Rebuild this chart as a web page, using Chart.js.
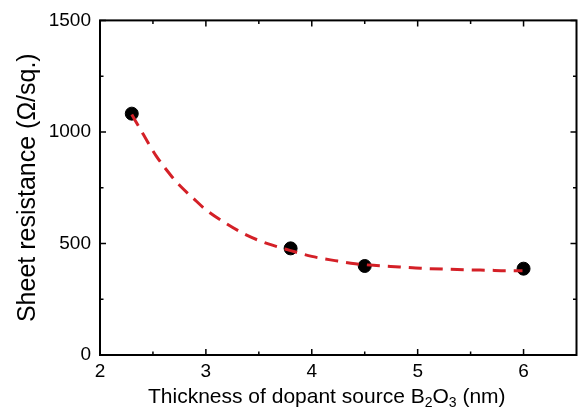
<!DOCTYPE html>
<html>
<head>
<meta charset="utf-8">
<script src="https://cdn.jsdelivr.net/npm/chart.js@4/dist/chart.umd.min.js"></script>
<style>
  html, body { margin: 0; padding: 0; background: #fff; }
  #wrap { width: 584px; height: 414px; }
</style>
</head>
<body>
<div id="wrap"><canvas id="c" width="584" height="414"></canvas></div>
<script>
// ---- data ----
const thickness = [2.3, 3.8, 4.5, 6.0];
const resistance = [1082, 478, 399, 387];

const fitX = [2.30, 2.41, 2.53, 2.67, 2.77, 2.88, 2.99, 3.19, 3.39, 3.59, 3.80, 4.00, 4.22, 4.41, 4.61, 4.83, 5.03, 5.24, 5.46, 5.66, 5.86, 5.99];
const fitY = [1078, 988, 893, 805, 752, 703, 655, 590, 536, 498, 468, 442, 423, 409, 401, 395, 389, 385, 382, 380, 378, 378];

const xTicks = [2, 3, 4, 5, 6];
const xMinor = [2.5, 3.5, 4.5, 5.5];
const yTicks = [0, 500, 1000, 1500];
const yMinor = [250, 750, 1250];

const xTitleParts = [
  { t: 'Thickness of dopant source B', sub: false },
  { t: '2', sub: true },
  { t: 'O', sub: false },
  { t: '3', sub: true },
  { t: ' (nm)', sub: false }
];
const yTitle = 'Sheet resistance (\u03A9/sq.)';

const FONT = '"Liberation Sans", Arial, Helvetica, sans-serif';

const frameAndTicks = {
  id: 'frameAndTicks',
  afterDraw(chart) {
    const { ctx, chartArea: a, scales: { x, y } } = chart;
    ctx.save();
    ctx.strokeStyle = '#000';
    ctx.lineWidth = 1.5;
    ctx.beginPath();
    const major = 6, minor = 3.5;
    xTicks.forEach(v => {
      const px = x.getPixelForValue(v);
      ctx.moveTo(px, a.bottom); ctx.lineTo(px, a.bottom - major);
      ctx.moveTo(px, a.top); ctx.lineTo(px, a.top + major);
    });
    xMinor.forEach(v => {
      const px = x.getPixelForValue(v);
      ctx.moveTo(px, a.bottom); ctx.lineTo(px, a.bottom - minor);
      ctx.moveTo(px, a.top); ctx.lineTo(px, a.top + minor);
    });
    yTicks.forEach(v => {
      const py = y.getPixelForValue(v);
      ctx.moveTo(a.left, py); ctx.lineTo(a.left + major, py);
      ctx.moveTo(a.right, py); ctx.lineTo(a.right - major, py);
    });
    yMinor.forEach(v => {
      const py = y.getPixelForValue(v);
      ctx.moveTo(a.left, py); ctx.lineTo(a.left + minor, py);
      ctx.moveTo(a.right, py); ctx.lineTo(a.right - minor, py);
    });
    ctx.stroke();
    ctx.lineWidth = 2;
    ctx.strokeRect(a.left, a.top, a.right - a.left, a.bottom - a.top);

    // x axis title with real subscripts
    ctx.fillStyle = '#000';
    ctx.textBaseline = 'alphabetic';
    ctx.textAlign = 'left';
    const big = '21px ' + FONT, small = '14px ' + FONT;
    let cx = 148;
    const base = 403;
    xTitleParts.forEach(p => {
      ctx.font = p.sub ? small : big;
      ctx.fillText(p.t, cx, p.sub ? base + 4 : base);
      cx += ctx.measureText(p.t).width;
    });
    ctx.restore();
  }
};

new Chart(document.getElementById('c'), {
  type: 'scatter',
  data: {
    datasets: [
      {
        label: 'fit',
        data: fitX.map((v, i) => ({ x: v, y: fitY[i] })),
        showLine: true,
        borderColor: '#d42027',
        borderWidth: 3,
        borderDash: [13, 8],
        pointRadius: 0,
        tension: 0.4,
        cubicInterpolationMode: 'monotone',
        order: 0
      },
      {
        label: 'measured',
        data: thickness.map((v, i) => ({ x: v, y: resistance[i] })),
        backgroundColor: '#000',
        borderColor: '#000',
        pointRadius: 6.5,
        order: 1
      }
    ]
  },
  options: {
    responsive: false,
    animation: false,
    layout: { padding: { top: 20, right: 4.5, left: 0, bottom: 0 } },
    plugins: { legend: { display: false }, tooltip: { enabled: false } },
    scales: {
      x: {
        type: 'linear',
        min: 2, max: 6.5,
        afterBuildTicks: s => { s.ticks = xTicks.map(v => ({ value: v })); },
        afterFit: s => { s.height = 59; },
        grid: { display: false, drawTicks: false },
        border: { display: false },
        ticks: { color: '#000', font: { family: FONT, size: 19 }, padding: 5, maxRotation: 0, autoSkip: false, callback: v => String(v) },
        title: { display: false }
      },
      y: {
        type: 'linear',
        min: 0, max: 1500,
        afterBuildTicks: s => { s.ticks = yTicks.map(v => ({ value: v })); },
        afterFit: s => { s.width = 100; },
        grid: { display: false, drawTicks: false },
        border: { display: false },
        ticks: { color: '#000', font: { family: FONT, size: 19 }, padding: 9, callback: v => String(v) },
        title: { display: true, text: yTitle, color: '#000', font: { family: FONT, size: 25 }, padding: { top: 13, bottom: 0 } }
      }
    }
  },
  plugins: [frameAndTicks]
});
</script>
</body>
</html>
